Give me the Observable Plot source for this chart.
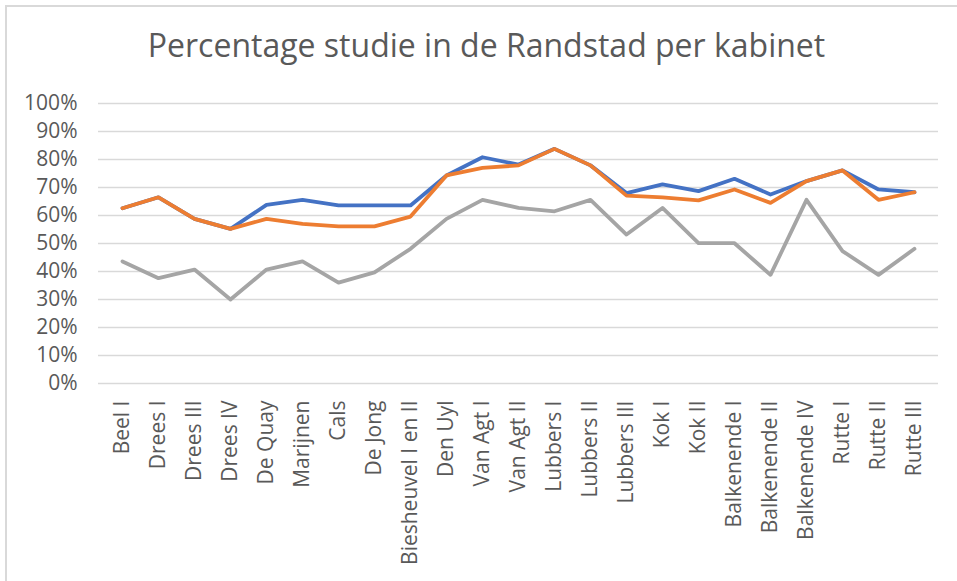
<!DOCTYPE html>
<html>
<head>
<meta charset="utf-8">
<script src="https://cdn.jsdelivr.net/npm/d3@7"></script>
<script src="https://cdn.jsdelivr.net/npm/@observablehq/plot@0.6"></script>
<style>
  html, body { margin: 0; padding: 0; background: #fff; }
  body { width: 957px; height: 581px; position: relative; overflow: hidden; font-family: "Open Sans", sans-serif; }
  #frame { position: absolute; left: 5px; top: 5px; width: 960px; height: 590px; border-left: 2px solid #d9d9d9; border-top: 2px solid #d9d9d9; box-sizing: border-box; }
  #title { position: absolute; left: 8px; top: 29px; width: 957px; text-align: center; font-size: 32px; line-height: 32px; color: #595959; white-space: nowrap; }
  #chart { position: absolute; left: 0; top: 80px; }
</style>
</head>
<body>
<div id="frame"></div>
<div id="title">Percentage studie in de Randstad per kabinet</div>
<div id="chart"></div>
<script>
const categories = ["Beel I", "Drees I", "Drees III", "Drees IV", "De Quay", "Marijnen", "Cals", "De Jong", "Biesheuvel I en II", "Den Uyl", "Van Agt I", "Van Agt II", "Lubbers I", "Lubbers II", "Lubbers III", "Kok I", "Kok II", "Balkenende I", "Balkenende II", "Balkenende IV", "Rutte I", "Rutte II", "Rutte III"];
const serie1 = [0.626, 0.665, 0.588, 0.552, 0.638, 0.656, 0.636, 0.636, 0.636, 0.743, 0.808, 0.782, 0.838, 0.779, 0.680, 0.711, 0.687, 0.731, 0.675, 0.723, 0.761, 0.693, 0.683];
const serie2 = [0.626, 0.665, 0.588, 0.552, 0.588, 0.570, 0.561, 0.561, 0.596, 0.743, 0.770, 0.779, 0.838, 0.779, 0.671, 0.665, 0.654, 0.693, 0.645, 0.723, 0.761, 0.656, 0.683];
const serie3 = [0.436, 0.376, 0.407, 0.300, 0.407, 0.436, 0.360, 0.397, 0.481, 0.588, 0.656, 0.627, 0.615, 0.656, 0.532, 0.627, 0.501, 0.501, 0.388, 0.656, 0.473, 0.388, 0.481];
const yTicks = [0, 0.1, 0.2, 0.3, 0.4, 0.5, 0.6, 0.7, 0.8, 0.9, 1.0];
const seriesNames = ["Serie 1", "Serie 2", "Serie 3"];
const seriesColors = ["#4472C4", "#ED7D31", "#A5A5A5"];

const rows = [];
[serie1, serie2, serie3].forEach((vals, s) => {
  vals.forEach((v, i) => rows.push({kabinet: categories[i], value: v, serie: seriesNames[s]}));
});

const chart = Plot.plot({
  width: 957,
  height: 501,
  marginLeft: 98,
  marginRight: 19,
  marginTop: 23,
  marginBottom: 198,
  style: {fontFamily: "'Open Sans', sans-serif", fontSize: "21px", color: "#595959", background: "transparent"},
  x: {type: "point", domain: categories, padding: 0.5, label: null},
  y: {domain: [0, 1], label: null},
  color: {domain: seriesNames, range: seriesColors},
  marks: [
    Plot.gridY(yTicks, {stroke: "#D9D9D9", strokeOpacity: 1, strokeWidth: 1.6}),
    Plot.axisY({ticks: yTicks, tickFormat: d3.format(".0%"), tickSize: 0, tickPadding: 21, fill: "#595959", fontSize: 21, label: null}),
    Plot.axisX({tickSize: 0, tickRotate: -90, tickPadding: 17, fill: "#595959", fontSize: 21, label: null}),
    Plot.lineY(rows, {x: "kabinet", y: "value", z: "serie", stroke: "serie", strokeWidth: 3.8, strokeLinejoin: "round", strokeLinecap: "round"})
  ]
});
document.getElementById("chart").appendChild(chart);
</script>
</body>
</html>
